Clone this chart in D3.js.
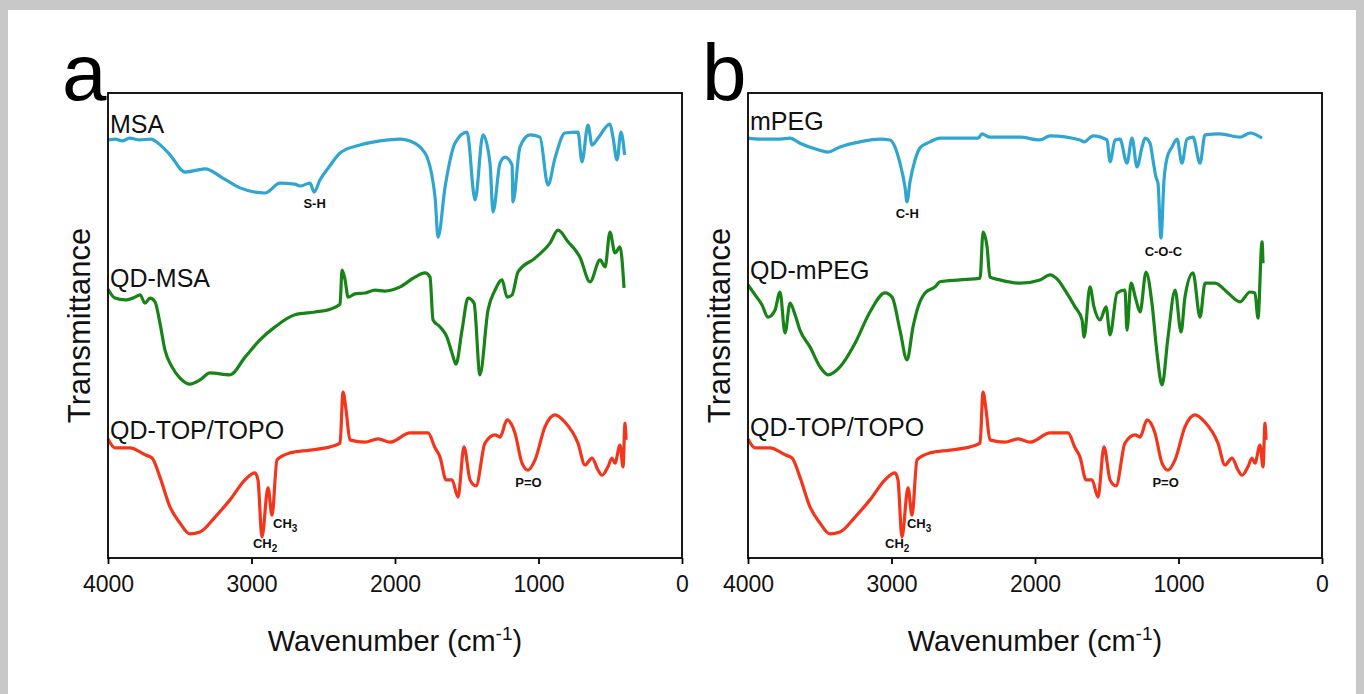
<!DOCTYPE html>
<html lang="en">
<head>
<meta charset="UTF-8">
<title>FTIR spectra</title>
<script src="https://cdn.jsdelivr.net/npm/d3@7"></script>
<style>
  body { margin: 0; background: #fff; }
  text { font-family: "Liberation Sans", Arial, sans-serif; }
</style>
</head>
<body>
<div id="chart"></div>
<script>
// wavenumber (cm-1), transmittance (a.u., shared 0-100 scale with offsets)
const xTicks = [4000, 3000, 2000, 1000, 0];

const msaWn = [4000, 3950, 3900, 3850, 3780, 3700, 3650, 3568, 3463, 3380, 3324, 3200, 3080, 2906, 2801, 2700, 2662, 2592, 2564, 2523, 2450, 2383, 2244, 2104, 1965, 1895, 1791, 1721, 1700, 1651, 1582, 1498, 1442, 1387, 1338, 1317, 1268, 1233, 1184, 1178, 1129, 1059, 990, 934, 885, 815, 725, 697, 655, 627, 585, 502, 481, 453, 425, 400];
const msaT = [89.9, 90.1, 89.7, 90.3, 89.9, 90.1, 89.2, 86.7, 83.0, 83.4, 83.7, 81.7, 79.6, 78.5, 80.6, 80.4, 80.0, 80.6, 78.7, 81.3, 84.5, 87.1, 88.8, 89.7, 90.1, 89.7, 87.1, 77.6, 69.0, 79.8, 89.2, 91.6, 77.0, 91.0, 84.9, 74.4, 84.9, 86.2, 84.5, 76.6, 88.4, 91.0, 90.5, 80.2, 86.0, 91.4, 91.6, 85.2, 93.1, 88.8, 90.3, 93.3, 90.5, 85.6, 91.6, 86.7];

const qdMsaWn = [4000, 3951, 3882, 3812, 3777, 3742, 3707, 3672, 3638, 3603, 3554, 3498, 3429, 3359, 3289, 3150, 3045, 2941, 2836, 2697, 2557, 2453, 2383, 2369, 2348, 2327, 2279, 2209, 2139, 2070, 1965, 1861, 1791, 1756, 1735, 1686, 1638, 1603, 1575, 1533, 1491, 1449, 1408, 1352, 1303, 1254, 1219, 1184, 1143, 1024, 920, 864, 794, 711, 641, 571, 536, 502, 467, 432, 404];
const qdMsaT = [57.8, 55.9, 55.5, 56.1, 56.6, 54.8, 55.9, 55.1, 50.5, 44.7, 41.1, 38.7, 37.4, 38.3, 39.8, 39.4, 43.2, 46.9, 49.7, 52.3, 52.9, 53.5, 54.6, 61.9, 59.8, 56.1, 56.8, 57.0, 57.6, 57.4, 58.3, 60.4, 61.3, 60.4, 51.2, 49.7, 47.5, 44.1, 41.7, 49.0, 55.9, 54.8, 39.4, 53.3, 57.6, 59.8, 56.1, 56.6, 61.5, 64.5, 67.7, 70.5, 68.0, 64.7, 59.4, 64.1, 62.6, 70.1, 65.6, 66.9, 58.1];

const topoWn = [4000, 3951, 3847, 3742, 3693, 3638, 3568, 3498, 3429, 3359, 3254, 3150, 3045, 2976, 2955, 2927, 2885, 2857, 2822, 2732, 2592, 2453, 2383, 2362, 2341, 2314, 2209, 2118, 2035, 1895, 1770, 1721, 1686, 1644, 1603, 1561, 1519, 1477, 1435, 1373, 1303, 1268, 1219, 1164, 1115, 1073, 1024, 955, 885, 815, 725, 676, 627, 585, 557, 516, 488, 467, 432, 411, 397, 390];
const topoT = [25.6, 23.7, 23.7, 22.2, 21.5, 17.4, 11.0, 7.5, 5.2, 5.6, 8.8, 12.5, 16.8, 18.3, 16.8, 4.5, 15.1, 9.2, 21.1, 22.6, 23.2, 23.9, 24.7, 35.7, 31.8, 25.4, 24.9, 25.6, 24.9, 26.9, 26.9, 23.7, 21.7, 16.8, 16.8, 13.1, 23.9, 16.8, 15.5, 24.7, 26.5, 26.0, 29.7, 26.9, 20.4, 18.9, 21.1, 28.2, 30.8, 29.2, 24.7, 20.0, 21.5, 18.9, 17.8, 19.6, 21.5, 20.4, 24.3, 19.6, 29.0, 25.4];

const mpegWn = [4000, 3916, 3777, 3707, 3638, 3533, 3442, 3359, 3219, 3080, 3010, 2976, 2941, 2906, 2892, 2871, 2836, 2801, 2732, 2662, 2523, 2397, 2369, 2314, 2104, 1965, 1895, 1686, 1658, 1596, 1498, 1477, 1442, 1408, 1359, 1324, 1289, 1254, 1233, 1198, 1178, 1157, 1143, 1122, 1101, 1080, 1045, 1010, 976, 941, 899, 850, 815, 711, 571, 502, 418];
const mpegT = [90.3, 90.1, 90.1, 90.3, 89.2, 88.0, 87.3, 88.4, 89.5, 90.1, 89.9, 88.4, 84.9, 79.8, 76.6, 80.9, 85.6, 88.2, 89.5, 90.3, 90.3, 90.3, 91.2, 90.5, 90.5, 89.9, 90.8, 89.9, 89.5, 90.8, 89.9, 85.2, 89.9, 90.1, 84.9, 90.3, 84.1, 88.4, 90.3, 89.2, 85.6, 81.9, 80.6, 68.8, 81.3, 86.0, 88.4, 90.1, 84.9, 90.1, 90.5, 84.9, 91.0, 91.2, 90.5, 91.4, 90.3];

const qdMpegWn = [4000, 3951, 3902, 3861, 3812, 3777, 3742, 3707, 3672, 3638, 3568, 3498, 3442, 3359, 3254, 3150, 3045, 2996, 2941, 2892, 2850, 2815, 2766, 2697, 2662, 2523, 2383, 2362, 2334, 2314, 2244, 2104, 1965, 1895, 1840, 1791, 1721, 1672, 1658, 1617, 1589, 1547, 1505, 1477, 1428, 1373, 1359, 1331, 1296, 1268, 1226, 1185, 1150, 1115, 1073, 1024, 982, 955, 899, 850, 815, 746, 655, 571, 502, 467, 446, 418, 411];
const qdMpegT = [58.7, 56.6, 54.4, 51.8, 53.3, 57.2, 48.4, 54.8, 52.3, 49.0, 45.4, 41.1, 39.4, 41.1, 46.2, 52.9, 57.0, 56.1, 49.0, 42.6, 49.7, 54.0, 57.0, 58.3, 59.4, 59.8, 60.2, 70.1, 66.9, 60.4, 59.8, 59.1, 59.8, 60.9, 59.8, 57.6, 54.0, 51.2, 47.5, 58.3, 54.0, 51.2, 54.0, 48.0, 57.0, 57.6, 49.0, 59.1, 55.5, 52.9, 61.5, 54.8, 44.1, 37.2, 47.5, 57.6, 48.6, 56.1, 61.3, 51.8, 59.1, 59.1, 57.0, 55.1, 57.2, 57.0, 51.6, 68.0, 63.4];

const colors = { blue: "#2fa5cf", green: "#188418", red: "#f2351b" };

const panels = [
  {
    letter: "a",
    series: [
      { name: "MSA", wn: msaWn, t: msaT, color: colors.blue, labelT: 91.4 },
      { name: "QD-MSA", wn: qdMsaWn, t: qdMsaT, color: colors.green, labelT: 58.3 },
      { name: "QD-TOP/TOPO", wn: topoWn, t: topoT, color: colors.red, labelT: 25.6 }
    ],
    notes: [
      { text: "S-H", wn: 2560, t: 75.2 },
      { text: "CH", sub: "3", wn: 2850, t: 6.5 },
      { text: "CH", sub: "2", wn: 2990, t: 2.2 },
      { text: "P=O", wn: 1070, t: 15.3 }
    ]
  },
  {
    letter: "b",
    series: [
      { name: "mPEG", wn: mpegWn, t: mpegT, color: colors.blue, labelT: 92.0 },
      { name: "QD-mPEG", wn: qdMpegWn, t: qdMpegT, color: colors.green, labelT: 60.0 },
      { name: "QD-TOP/TOPO", wn: topoWn, t: topoT, color: colors.red, labelT: 26.3 }
    ],
    notes: [
      { text: "C-H", wn: 2890, t: 73.1 },
      { text: "C-O-C", wn: 1105, t: 64.9 },
      { text: "CH", sub: "3", wn: 2892, t: 6.5 },
      { text: "CH", sub: "2", wn: 3045, t: 2.2 },
      { text: "P=O", wn: 1090, t: 15.3 }
    ]
  }
];

const W = 1364, H = 694;
const svg = d3.select("#chart").append("svg").attr("width", W).attr("height", H);

// grey photo border (top, left, right)
const frame = svg.append("g").attr("fill", "#c8c8c8");
frame.append("rect").attr("x", 0).attr("y", 0).attr("width", W).attr("height", 10);
frame.append("rect").attr("x", 0).attr("y", 0).attr("width", 8).attr("height", H);
frame.append("rect").attr("x", W - 8).attr("y", 0).attr("width", 8).attr("height", H);

const plotTop = 93, plotBottom = 558;
const lefts = [108, 748], plotW = 574;

panels.forEach((p, pi) => {
  const x = d3.scaleLinear().domain([4000, 0]).range([lefts[pi], lefts[pi] + plotW]);
  const y = d3.scaleLinear().domain([0, 100]).range([plotBottom, plotTop]);
  const g = svg.append("g");

  const line = d3.line().x(d => x(d[0])).y(d => y(d[1])).curve(d3.curveMonotoneX);

  p.series.forEach(s => {
    g.append("path")
      .datum(d3.zip(s.wn, s.t))
      .attr("d", line)
      .attr("fill", "none")
      .attr("stroke", s.color)
      .attr("stroke-width", 3.2)
      .attr("stroke-linejoin", "round");
    g.append("text")
      .attr("x", x(4000) + 2).attr("y", y(s.labelT))
      .attr("font-size", 25).attr("fill", "#111")
      .text(s.name);
  });

  p.notes.forEach(n => {
    const t = g.append("text")
      .attr("x", x(n.wn)).attr("y", y(n.t))
      .attr("text-anchor", n.sub ? "start" : "middle")
      .attr("font-size", 13).attr("font-weight", "bold").attr("fill", "#111")
      .text(n.text);
    if (n.sub) t.append("tspan").attr("dy", 4).attr("font-size", 10).text(n.sub);
  });

  // frame
  g.append("rect").attr("x", x(4000)).attr("y", plotTop).attr("width", plotW).attr("height", plotBottom - plotTop)
    .attr("fill", "none").attr("stroke", "#000").attr("stroke-width", 1.8);

  const ax = g.append("g").attr("transform", `translate(0,${plotBottom})`)
    .call(d3.axisBottom(x).tickValues(xTicks).tickSize(6).tickPadding(12).tickFormat(d3.format("d")));
  ax.select(".domain").remove();
  ax.selectAll("line").attr("stroke", "#000").attr("stroke-width", 1.8);
  ax.selectAll("text").attr("font-size", 23).attr("fill", "#111")
    .style("font-family", "Liberation Sans, Arial, sans-serif");

  const title = g.append("text")
    .attr("x", x(2000)).attr("y", 651)
    .attr("text-anchor", "middle").attr("font-size", 29).attr("fill", "#111")
    .text("Wavenumber (cm");
  title.append("tspan").attr("dy", -11).attr("font-size", 19).text("-1");
  title.append("tspan").attr("dy", 11).text(")");

  g.append("text")
    .attr("transform", `translate(${x(4000) - 18},${(plotTop + plotBottom) / 2}) rotate(-90)`)
    .attr("text-anchor", "middle").attr("font-size", 31).attr("fill", "#111")
    .text("Transmittance");

  g.append("text")
    .attr("x", x(4000) - 46).attr("y", 100)
    .attr("font-size", 80).attr("fill", "#000")
    .text(p.letter);
});
</script>
</body>
</html>
